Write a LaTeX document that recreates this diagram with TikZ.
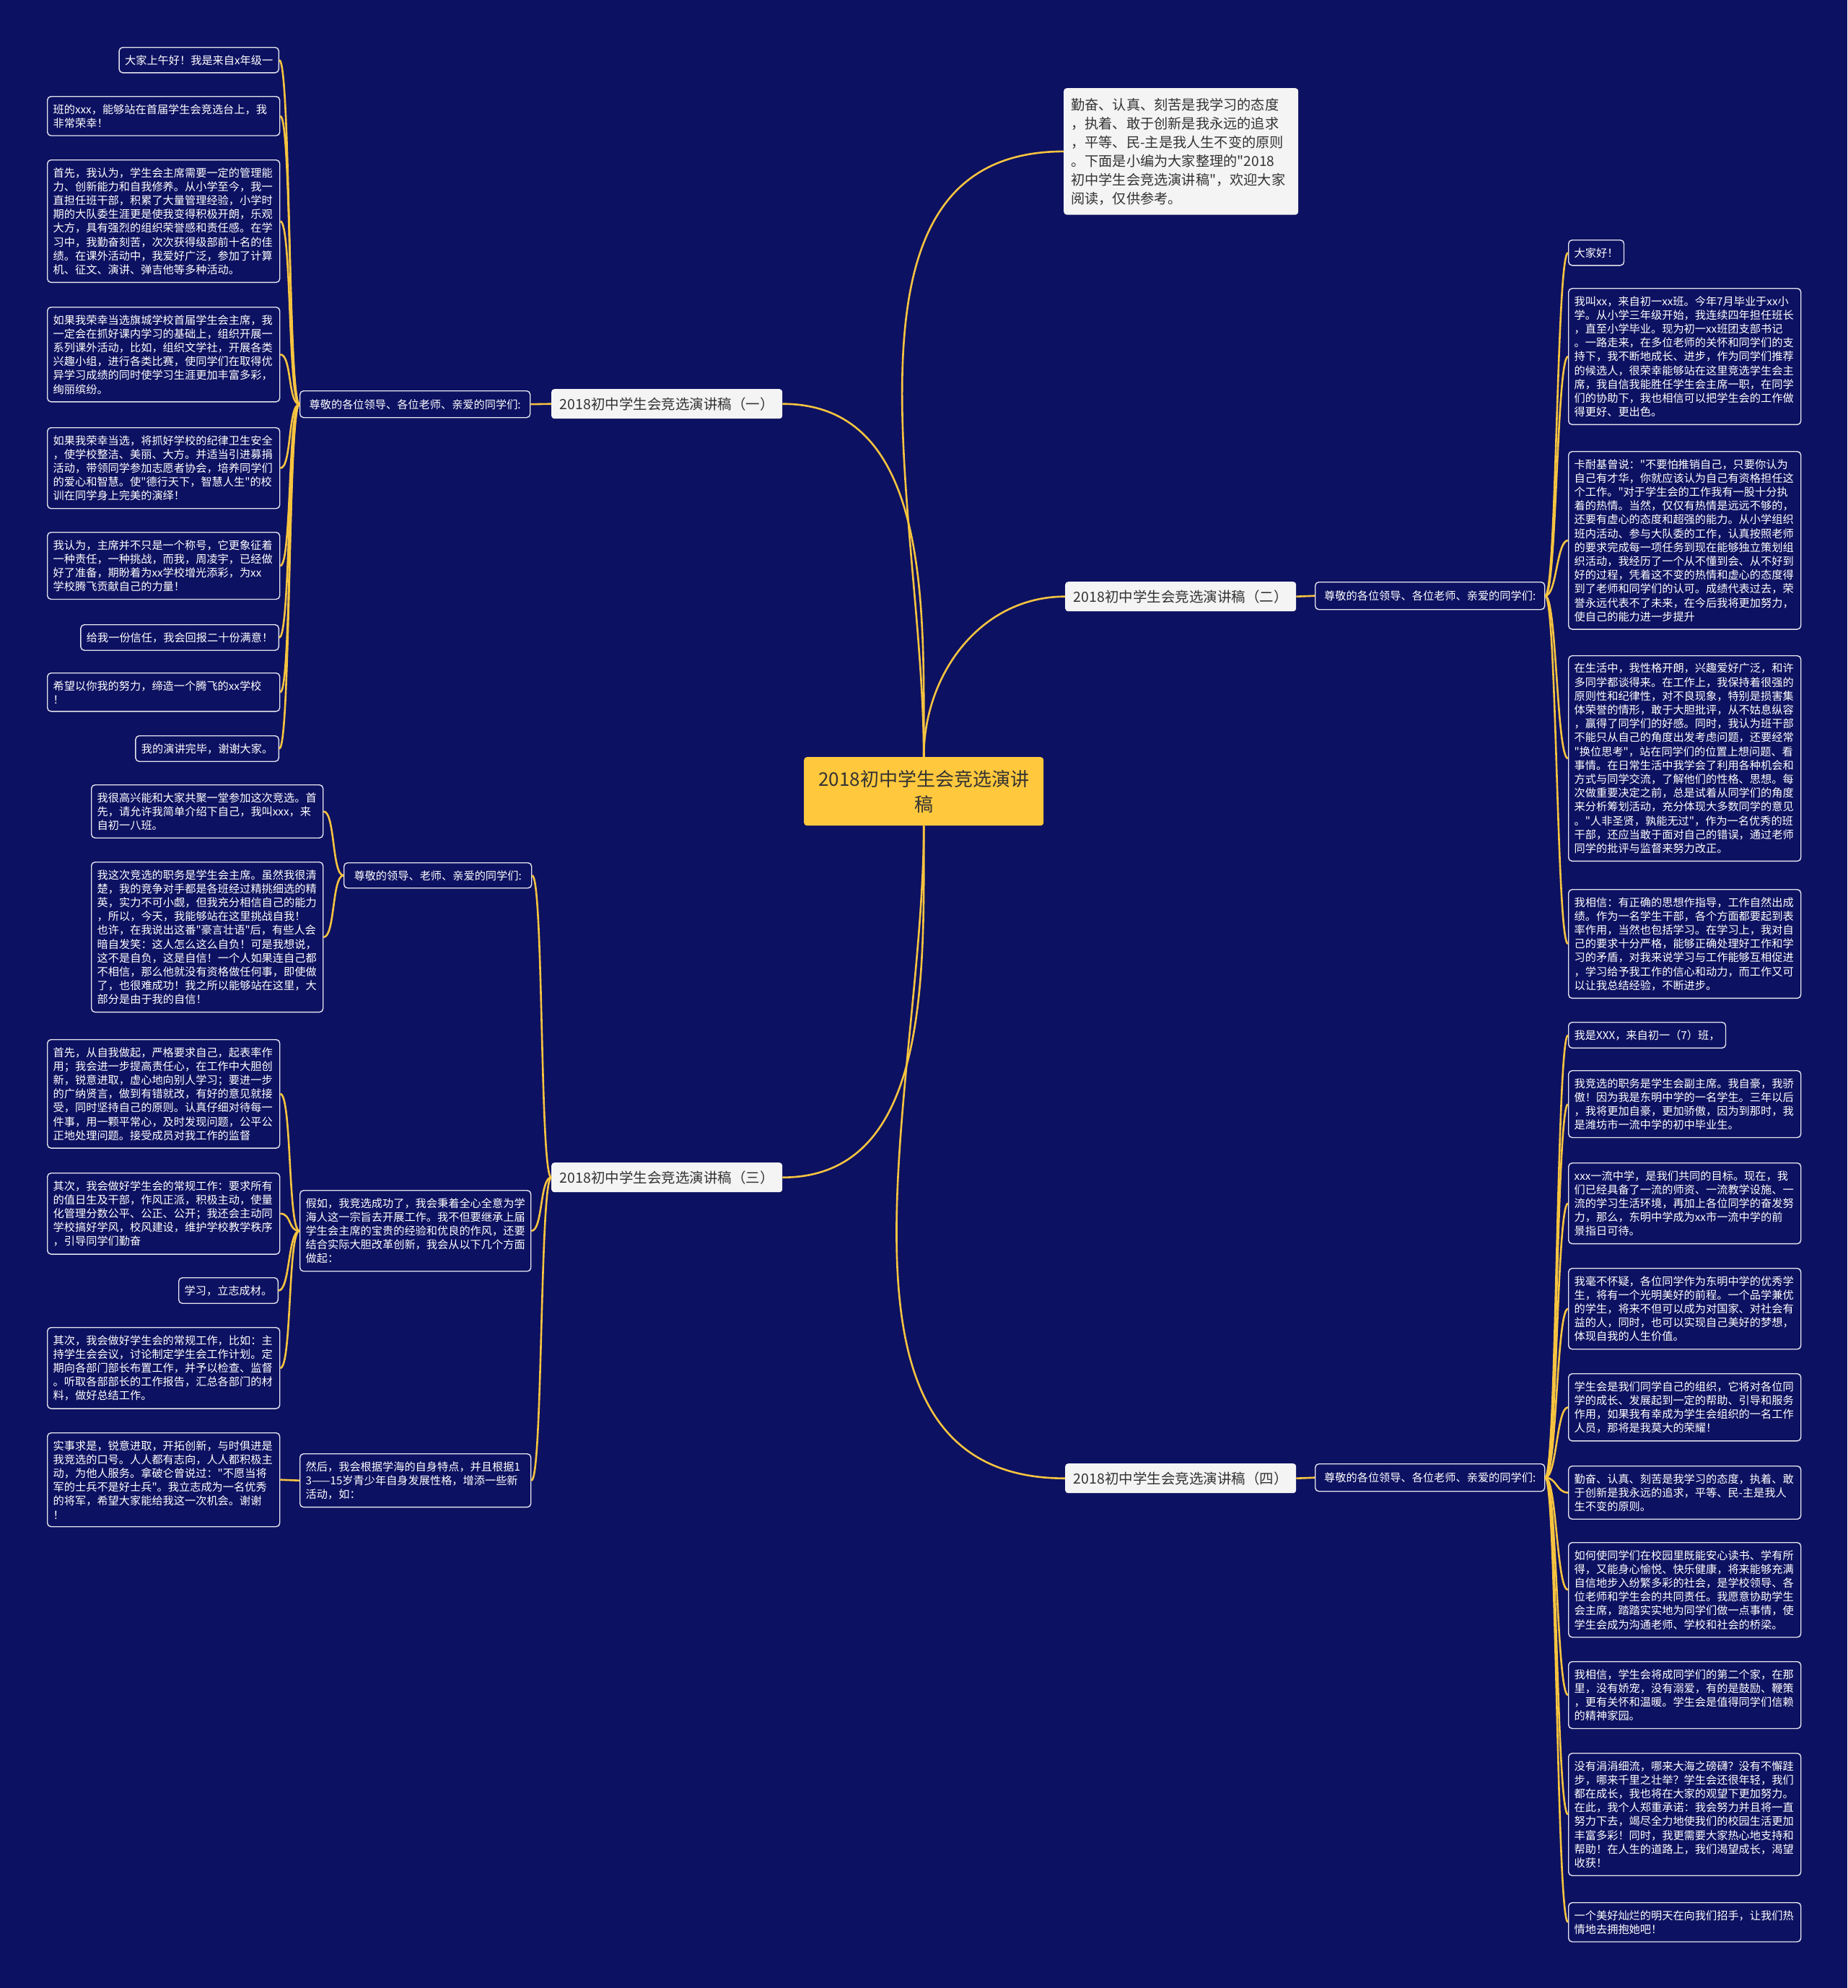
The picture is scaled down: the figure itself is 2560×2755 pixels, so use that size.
\documentclass[tikz,border=0pt]{standalone}
\usepackage{fontspec}
\newfontfamily\cjk{Noto Sans CJK SC}
\definecolor{bgblue}{RGB}{13,17,97}
\definecolor{linegold}{RGB}{247,196,64}
\definecolor{rootgold}{RGB}{255,200,61}
\definecolor{boxline}{RGB}{228,228,238}
\definecolor{paleg}{RGB}{244,244,244}
\definecolor{darktext}{RGB}{51,51,51}
\newcommand{\leaffont}{\cjk\fontsize{15.2}{19.2}\selectfont}
\newcommand{\topicfont}{\cjk\fontsize{19.5}{24}\selectfont}
\newcommand{\introfont}{\cjk\fontsize{19.2}{26}\selectfont}
\newcommand{\rootfont}{\cjk\fontsize{26}{35}\selectfont}
\tikzset{
    leaf/.style={draw=boxline, line width=1.4pt, fill=bgblue, text=white,
        rounded corners=5pt, align=left, inner xsep=8pt, inner ysep=10.5pt, font=\leaffont},
    wide/.style={leaf, text width=306pt},
    topic/.style={fill=paleg, text=darktext, rounded corners=4pt, inner sep=0pt,
        minimum width=320pt, minimum height=41pt, font=\topicfont},
    conn/.style={draw=linegold, line width=2.6pt},
}

\begin{document}
\begin{tikzpicture}[x=1pt, y=1pt]
    % Background
    \useasboundingbox (0,0) rectangle (2560,-2755);
    \fill[bgblue] (0,0) rectangle (2560,-2755);

    % Root and intro
    \node[fill=rootgold, text=darktext, rounded corners=4pt, align=center, inner sep=0pt,
        minimum width=332pt, minimum height=95pt, font=\rootfont, anchor=north west]
        (root) at (1114,-1049) {2018初中学生会竞选演讲\\稿};
    \node[fill=paleg, text=darktext, rounded corners=4pt, align=left, text width=305pt,
        inner xsep=10pt, inner ysep=13.5pt, font=\introfont, anchor=north west] (intro) at (1474,-122)
        {勤奋、认真、刻苦是我学习的态度\\，执着、敢于创新是我永远的追求\\，平等、民-主是我人生不变的原则\\。下面是小编为大家整理的"2018\\初中学生会竞选演讲稿"，欢迎大家\\阅读，仅供参考。};

    % Topics
    \node[topic, anchor=north west] (ta) at (764,-539) {2018初中学生会竞选演讲稿（一）};
    \node[topic, anchor=north west] (tb) at (1476,-806) {2018初中学生会竞选演讲稿（二）};
    \node[topic, anchor=north west] (tc) at (764,-1611) {2018初中学生会竞选演讲稿（三）};
    \node[topic, anchor=north west] (td) at (1476,-2028) {2018初中学生会竞选演讲稿（四）};

    % Headings
    \node[leaf, minimum width=319pt, minimum height=37pt, inner ysep=0pt, anchor=north west] (ha) at (415,-541) {尊敬的各位领导、各位老师、亲爱的同学们:};
    \node[leaf, minimum width=318pt, minimum height=38pt, inner ysep=0pt, anchor=north west] (hb) at (1822,-806) {尊敬的各位领导、各位老师、亲爱的同学们:};
    \node[leaf, minimum width=318pt, minimum height=38pt, inner ysep=0pt, anchor=north west] (hd) at (1822,-2028) {尊敬的各位领导、各位老师、亲爱的同学们:};
    \node[leaf, minimum width=260pt, minimum height=35pt, inner ysep=0pt, anchor=north west] (hc1) at (476,-1195) {尊敬的领导、老师、亲爱的同学们:};
    \node[leaf, text width=304pt, anchor=north west] (hc2) at (415,-1649)
        {假如，我竞选成功了，我会秉着全心全意为学\\海人这一宗旨去开展工作。我不但要继承上届\\学生会主席的宝贵的经验和优良的作风，还要\\结合实际大胆改革创新，我会从以下几个方面\\做起：};
    \node[leaf, text width=304pt, anchor=north west] (hc3) at (415,-2014)
        {然后，我会根据学海的自身特点，并且根据1\\3——15岁青少年自身发展性格，增添一些新\\活动，如：};

    % Leaves of (一)
    \node[leaf, anchor=north east] (a1) at (387,-65) {大家上午好！我是来自x年级一};
    \node[wide, anchor=north west] (a2) at (65,-133) {班的xxx，能够站在首届学生会竞选台上，我\\非常荣幸！};
    \node[wide, anchor=north west] (a3) at (65,-221) {首先，我认为，学生会主席需要一定的管理能\\力、创新能力和自我修养。从小学至今，我一\\直担任班干部，积累了大量管理经验，小学时\\期的大队委生涯更是使我变得积极开朗，乐观\\大方，具有强烈的组织荣誉感和责任感。在学\\习中，我勤奋刻苦，次次获得级部前十名的佳\\绩。在课外活动中，我爱好广泛，参加了计算\\机、征文、演讲、弹吉他等多种活动。};
    \node[wide, anchor=north west] (a4) at (65,-425) {如果我荣幸当选旗城学校首届学生会主席，我\\一定会在抓好课内学习的基础上，组织开展一\\系列课外活动，比如，组织文学社，开展各类\\兴趣小组，进行各类比赛，使同学们在取得优\\异学习成绩的同时使学习生涯更加丰富多彩，\\绚丽缤纷。};
    \node[wide, anchor=north west] (a5) at (65,-592) {如果我荣幸当选，将抓好学校的纪律卫生安全\\，使学校整洁、美丽、大方。并适当引进募捐\\活动，带领同学参加志愿者协会，培养同学们\\的爱心和智慧。使"德行天下，智慧人生"的校\\训在同学身上完美的演绎！};
    \node[wide, anchor=north west] (a6) at (65,-737) {我认为，主席并不只是一个称号，它更象征着\\一种责任，一种挑战，而我，周凌宇，已经做\\好了准备，期盼着为xx学校增光添彩，为xx\\学校腾飞贡献自己的力量！};
    \node[leaf, anchor=north east] (a7) at (387,-865) {给我一份信任，我会回报二十份满意！};
    \node[wide, anchor=north west] (a8) at (65,-932) {希望以你我的努力，缔造一个腾飞的xx学校\\！};
    \node[leaf, anchor=north east] (a9) at (387,-1019) {我的演讲完毕，谢谢大家。};

    % Leaves of (二)
    \node[leaf, anchor=north west] (b1) at (2173,-332) {大家好！};
    \node[wide, anchor=north west] (b2) at (2173,-399) {我叫xx，来自初一xx班。今年7月毕业于xx小\\学。从小学三年级开始，我连续四年担任班长\\，直至小学毕业。现为初一xx班团支部书记\\。一路走来，在多位老师的关怀和同学们的支\\持下，我不断地成长、进步，作为同学们推荐\\的候选人，很荣幸能够站在这里竞选学生会主\\席，我自信我能胜任学生会主席一职，在同学\\们的协助下，我也相信可以把学生会的工作做\\得更好、更出色。};
    \node[wide, anchor=north west] (b3) at (2173,-625) {卡耐基曾说："不要怕推销自己，只要你认为\\自己有才华，你就应该认为自己有资格担任这\\个工作。"对于学生会的工作我有一股十分执\\着的热情。当然，仅仅有热情是远远不够的，\\还要有虚心的态度和超强的能力。从小学组织\\班内活动、参与大队委的工作，认真按照老师\\的要求完成每一项任务到现在能够独立策划组\\织活动，我经历了一个从不懂到会、从不好到\\好的过程，凭着这不变的热情和虚心的态度得\\到了老师和同学们的认可。成绩代表过去，荣\\誉永远代表不了未来，在今后我将更加努力，\\使自己的能力进一步提升};
    \node[wide, anchor=north west] (b4) at (2173,-908) {在生活中，我性格开朗，兴趣爱好广泛，和许\\多同学都谈得来。在工作上，我保持着很强的\\原则性和纪律性，对不良现象，特别是损害集\\体荣誉的情形，敢于大胆批评，从不姑息纵容\\，赢得了同学们的好感。同时，我认为班干部\\不能只从自己的角度出发考虑问题，还要经常\\"换位思考"，站在同学们的位置上想问题、看\\事情。在日常生活中我学会了利用各种机会和\\方式与同学交流，了解他们的性格、思想。每\\次做重要决定之前，总是试着从同学们的角度\\来分析筹划活动，充分体现大多数同学的意见\\。"人非圣贤，孰能无过"，作为一名优秀的班\\干部，还应当敢于面对自己的错误，通过老师\\同学的批评与监督来努力改正。};
    \node[wide, anchor=north west] (b5) at (2173,-1232) {我相信：有正确的思想作指导，工作自然出成\\绩。作为一名学生干部，各个方面都要起到表\\率作用，当然也包括学习。在学习上，我对自\\己的要求十分严格，能够正确处理好工作和学\\习的矛盾，对我来说学习与工作能够互相促进\\，学习给予我工作的信心和动力，而工作又可\\以让我总结经验，不断进步。};

    % Leaves of (三)
    \node[wide, text width=305pt, anchor=north west] (c1) at (126,-1087) {我很高兴能和大家共聚一堂参加这次竞选。首\\先，请允许我简单介绍下自己，我叫xxx，来\\自初一八班。};
    \node[wide, text width=305pt, anchor=north west] (c2) at (126,-1194) {我这次竞选的职务是学生会主席。虽然我很清\\楚，我的竞争对手都是各班经过精挑细选的精\\英，实力不可小觑，但我充分相信自己的能力\\，所以，今天，我能够站在这里挑战自我！\\也许，在我说出这番"豪言壮语"后，有些人会\\暗自发笑：这人怎么这么自负！可是我想说，\\这不是自负，这是自信！一个人如果连自己都\\不相信，那么他就没有资格做任何事，即使做\\了，也很难成功！我之所以能够站在这里，大\\部分是由于我的自信！};
    \node[wide, anchor=north west] (c3) at (65,-1440) {首先，从自我做起，严格要求自己，起表率作\\用；我会进一步提高责任心，在工作中大胆创\\新，锐意进取，虚心地向别人学习；要进一步\\的广纳贤言，做到有错就改，有好的意见就接\\受，同时坚持自己的原则。认真仔细对待每一\\件事，用一颗平常心，及时发现问题，公平公\\正地处理问题。接受成员对我工作的监督};
    \node[wide, anchor=north west] (c4) at (65,-1625) {其次，我会做好学生会的常规工作：要求所有\\的值日生及干部，作风正派，积极主动，使量\\化管理分数公平、公正、公开；我还会主动同\\学校搞好学风，校风建设，维护学校教学秩序\\，引导同学们勤奋};
    \node[leaf, anchor=north east] (c5) at (386,-1770) {学习，立志成材。};
    \node[wide, anchor=north west] (c6) at (65,-1839) {其次，我会做好学生会的常规工作，比如：主\\持学生会会议，讨论制定学生会工作计划。定\\期向各部门部长布置工作，并予以检查、监督\\。听取各部部长的工作报告，汇总各部门的材\\料，做好总结工作。};
    \node[wide, anchor=north west] (c7) at (65,-1985) {实事求是，锐意进取，开拓创新，与时俱进是\\我竞选的口号。人人都有志向，人人都积极主\\动，为他人服务。拿破仑曾说过："不愿当将\\军的士兵不是好士兵"。我立志成为一名优秀\\的将军，希望大家能给我这一次机会。谢谢\\！};

    % Leaves of (四)
    \node[leaf, anchor=north west] (d1) at (2173,-1416) {我是XXX，来自初一（7）班，};
    \node[wide, anchor=north west] (d2) at (2173,-1483) {我竞选的职务是学生会副主席。我自豪，我骄\\傲！因为我是东明中学的一名学生。三年以后\\，我将更加自豪，更加骄傲，因为到那时，我\\是潍坊市一流中学的初中毕业生。};
    \node[wide, anchor=north west] (d3) at (2173,-1611) {xxx一流中学，是我们共同的目标。现在，我\\们已经具备了一流的师资、一流教学设施、一\\流的学习生活环境，再加上各位同学的奋发努\\力，那么，东明中学成为xx市一流中学的前\\景指日可待。};
    \node[wide, anchor=north west] (d4) at (2173,-1757) {我毫不怀疑，各位同学作为东明中学的优秀学\\生，将有一个光明美好的前程。一个品学兼优\\的学生，将来不但可以成为对国家、对社会有\\益的人，同时，也可以实现自己美好的梦想，\\体现自我的人生价值。};
    \node[wide, anchor=north west] (d5) at (2173,-1903) {学生会是我们同学自己的组织，它将对各位同\\学的成长、发展起到一定的帮助、引导和服务\\作用，如果我有幸成为学生会组织的一名工作\\人员，那将是我莫大的荣耀！};
    \node[wide, anchor=north west] (d6) at (2173,-2031) {勤奋、认真、刻苦是我学习的态度，执着、敢\\于创新是我永远的追求，平等、民-主是我人\\生不变的原则。};
    \node[wide, anchor=north west] (d7) at (2173,-2137) {如何使同学们在校园里既能安心读书、学有所\\得，又能身心愉悦、快乐健康，将来能够充满\\自信地步入纷繁多彩的社会，是学校领导、各\\位老师和学生会的共同责任。我愿意协助学生\\会主席，踏踏实实地为同学们做一点事情，使\\学生会成为沟通老师、学校和社会的桥梁。};
    \node[wide, anchor=north west] (d8) at (2173,-2302) {我相信，学生会将成同学们的第二个家，在那\\里，没有娇宠，没有溺爱，有的是鼓励、鞭策\\，更有关怀和温暖。学生会是值得同学们信赖\\的精神家园。};
    \node[wide, anchor=north west] (d9) at (2173,-2429) {没有涓涓细流，哪来大海之磅礴？没有不懈跬\\步，哪来千里之壮举？学生会还很年轻，我们\\都在成长，我也将在大家的观望下更加努力。\\在此，我个人郑重承诺：我会努力并且将一直\\努力下去，竭尽全力地使我们的校园生活更加\\丰富多彩！同时，我更需要大家热心地支持和\\帮助！在人生的道路上，我们渴望成长，渴望\\收获！};
    \node[wide, anchor=north west] (d10) at (2173,-2636) {一个美好灿烂的明天在向我们招手，让我们热\\情地去拥抱她吧！};

    % Draw connectors from the root
    \draw[conn] (root.north) to[out=90, in=180] (intro.west);
    \draw[conn] (root.north) to[out=90, in=0] (ta.east);
    \draw[conn] (root.north) to[out=90, in=180] (tb.west);
    \draw[conn] (root.south) to[out=-90, in=0] (tc.east);
    \draw[conn] (root.south) to[out=-90, in=180] (td.west);

    % Draw topic to heading
    \draw[conn] (ta.west) -- (ha.east);
    \draw[conn] (tb.east) -- (hb.west);
    \draw[conn] (td.east) -- (hd.west);
    \foreach \h in {hc1,hc2,hc3}
        \draw[conn] (tc.west) .. controls +(-16,0) and +(16,0) .. (\h.east);

    % Draw heading to leaves
    \foreach \i in {1,...,9}
        \draw[conn] (ha.west) .. controls +(-16,0) and +(16,0) .. (a\i.east);
    \foreach \i in {1,...,5}
        \draw[conn] (hb.east) .. controls +(16,0) and +(-16,0) .. (b\i.west);
    \foreach \i in {1,2}
        \draw[conn] (hc1.west) .. controls +(-16,0) and +(16,0) .. (c\i.east);
    \foreach \i in {3,...,6}
        \draw[conn] (hc2.west) .. controls +(-16,0) and +(16,0) .. (c\i.east);
    \draw[conn] (hc3.west) -- (c7.east);
    \foreach \i in {1,...,10}
        \draw[conn] (hd.east) .. controls +(16,0) and +(-16,0) .. (d\i.west);
\end{tikzpicture}
\end{document}
